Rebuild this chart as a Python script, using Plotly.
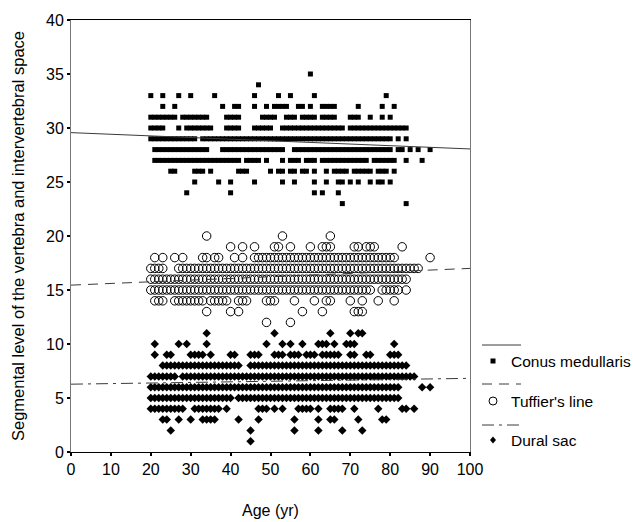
import plotly.graph_objects as go

# ---------------- data ----------------
conus_levels = [35, 34, 33, 32, 31, 30, 29, 28, 27, 26, 25, 24, 23]
conus_ages = [
    [60],
    [47],
    [20, 23, 27, 30, 36, 46, 52, 55, 61, 79],
    [23, 26, 38, 41, 42, 46, 49, 51, 52, 53, 54, 57, 58, 60, 63, 64, 65, 66, 72, 78, 81],
    [20, 21, 22, 23, 24, 25, 26, 28, 29, 30, 31, 32, 33, 34, 39, 40, 41, 42, 48, 49, 50, 51,
     54, 55, 56, 58, 59, 60, 61, 63, 64, 65, 66, 70, 71, 72, 75, 78, 80],
    [20, 21, 22, 23, 27, 29, 30, 31, 32, 33, 34, 35, 39, 40, 41, 42, 46, 47, 48, 49, 50, 53,
     54, 55, 56, 57, 58, 59, 60, 61, 62, 63, 64, 65, 66, 67, 68, 70, 71, 72, 73, 74, 75, 76,
     77, 78, 79, 80, 81, 82, 83, 84],
    [20, 21, 22, 23, 24, 25, 26, 27, 28, 29, 30, 31, 33, 34, 35, 36, 37, 38, 39, 40, 41, 42,
     43, 44, 45, 46, 47, 48, 49, 50, 51, 52, 53, 54, 55, 56, 57, 58, 59, 60, 61, 62, 63, 64,
     65, 66, 67, 68, 69, 70, 71, 72, 73, 74, 75, 76, 77, 78, 79, 80, 82, 84],
    [21, 22, 23, 24, 25, 26, 27, 28, 29, 30, 31, 32, 33, 34, 38, 39, 40, 41, 42, 43, 44, 45,
     46, 47, 48, 49, 50, 51, 52, 53, 56, 57, 58, 59, 60, 61, 62, 63, 64, 65, 66, 67, 68, 69,
     70, 71, 72, 73, 74, 75, 76, 77, 78, 79, 80, 82, 83, 85, 87, 90],
    [21, 22, 23, 24, 25, 26, 27, 28, 29, 30, 31, 32, 33, 34, 35, 36, 37, 38, 39, 40, 41, 42,
     44, 45, 46, 47, 49, 53, 55, 56, 57, 59, 60, 61, 63, 64, 65, 66, 67, 68, 69, 70, 71, 72,
     73, 74, 76, 77, 78, 79, 80, 81, 84, 88],
    [25, 26, 31, 32, 33, 35, 42, 43, 44, 50, 52, 53, 55, 56, 58, 59, 61, 64, 66, 67, 68, 69,
     71, 72, 73, 74, 75, 77, 78, 79, 81],
    [31, 37, 40, 46, 53, 56, 61, 64, 67, 68, 70, 72, 75, 77, 78, 80],
    [29, 40, 61, 63, 67],
    [68, 84],
]

tuffier_levels = [20, 19, 18, 17, 16, 15, 14, 13, 12]
tuffier_ages = [
    [34, 53, 65],
    [40, 43, 46, 51, 52, 55, 60, 63, 64, 65, 71, 72, 74, 75, 76, 83],
    [21, 23, 26, 28, 33, 34, 36, 37, 41, 43, 46, 47, 48, 49, 50, 51, 52, 53, 54, 55, 56, 57,
     58, 59, 60, 61, 62, 63, 64, 65, 66, 67, 68, 69, 70, 71, 72, 73, 74, 75, 76, 77, 78, 79,
     80, 81, 90],
    [20, 21, 22, 23, 27, 28, 29, 30, 31, 32, 33, 34, 35, 36, 37, 38, 39, 40, 41, 42, 43, 44,
     45, 46, 47, 48, 49, 50, 51, 52, 53, 54, 55, 56, 57, 58, 59, 60, 61, 62, 63, 64, 65, 66,
     67, 68, 69, 70, 71, 72, 73, 74, 75, 76, 77, 78, 79, 80, 81, 82, 83, 84, 85, 86, 87],
    [20, 21, 22, 23, 24, 25, 26, 27, 28, 29, 30, 31, 32, 33, 34, 35, 36, 37, 38, 39, 40, 41,
     42, 43, 44, 45, 46, 47, 48, 49, 50, 51, 52, 53, 54, 55, 56, 57, 58, 59, 60, 61, 62, 63,
     64, 65, 66, 67, 68, 69, 70, 71, 72, 73, 74, 75, 76, 77, 78, 79, 80, 81, 82, 83, 84],
    [20, 21, 22, 23, 24, 25, 26, 27, 28, 29, 30, 31, 32, 33, 34, 35, 36, 37, 38, 39, 40, 41,
     42, 43, 44, 45, 46, 47, 48, 49, 50, 51, 52, 53, 54, 55, 56, 57, 58, 59, 60, 61, 62, 63,
     64, 65, 66, 67, 68, 69, 70, 71, 72, 73, 74, 75, 78, 79, 80, 81, 82, 84],
    [21, 22, 23, 26, 27, 28, 29, 30, 31, 32, 33, 35, 36, 37, 38, 39, 42, 43, 44, 49, 50, 51,
     56, 61, 64, 65, 70, 73, 77, 81],
    [34, 40, 42, 58, 63, 71, 72, 73],
    [49, 55],
]

dural_levels = [11, 10, 9, 8, 7, 6, 5, 4, 3, 2, 1]
dural_ages = [
    [34, 51, 65, 70, 72, 73],
    [21, 27, 29, 34, 49, 53, 55, 58, 62, 63, 64, 66, 69, 70, 71, 81],
    [21, 24, 25, 30, 31, 32, 33, 35, 40, 41, 45, 46, 47, 51, 52, 53, 55, 56, 57, 59, 60, 61,
     63, 64, 65, 66, 67, 70, 71, 74, 75, 80, 81, 82],
    [23, 24, 25, 26, 27, 28, 29, 30, 31, 32, 33, 34, 35, 36, 37, 38, 39, 40, 41, 42, 45, 46,
     47, 48, 49, 50, 51, 52, 53, 54, 55, 56, 57, 58, 59, 60, 61, 62, 63, 64, 65, 66, 67, 68,
     69, 70, 71, 72, 73, 74, 75, 76, 77, 78, 79, 80, 81, 82, 83, 84],
    [20, 21, 22, 23, 24, 25, 26, 28, 29, 30, 31, 32, 33, 34, 35, 36, 37, 38, 39, 40, 41, 42,
     43, 44, 45, 46, 47, 48, 49, 50, 51, 52, 53, 54, 55, 56, 57, 58, 59, 60, 61, 62, 63, 64,
     65, 66, 67, 68, 69, 70, 71, 72, 73, 74, 75, 76, 77, 78, 79, 80, 81, 82, 83, 84, 85, 86],
    [20, 21, 22, 23, 24, 25, 26, 27, 28, 29, 30, 31, 32, 33, 34, 35, 36, 37, 38, 39, 40, 41,
     42, 43, 44, 45, 46, 47, 48, 49, 50, 51, 52, 53, 54, 55, 56, 57, 58, 59, 60, 61, 62, 63,
     64, 65, 66, 67, 68, 69, 70, 71, 72, 73, 74, 75, 76, 77, 78, 79, 80, 81, 82, 88, 90],
    [20, 21, 22, 23, 24, 25, 26, 27, 28, 29, 30, 31, 32, 33, 34, 35, 36, 37, 38, 39, 40, 42,
     43, 44, 45, 46, 47, 48, 49, 50, 51, 52, 53, 54, 55, 56, 57, 58, 59, 60, 61, 62, 63, 64,
     65, 66, 67, 68, 69, 70, 71, 72, 73, 74, 75, 76, 77, 78, 79, 80, 81, 82],
    [20, 21, 22, 23, 24, 25, 26, 27, 28, 31, 32, 33, 34, 35, 36, 37, 39, 47, 48, 49, 51, 53,
     57, 58, 59, 60, 62, 65, 66, 67, 68, 71, 77, 83, 84, 86],
    [23, 24, 27, 30, 33, 34, 35, 36, 42, 47, 56, 62, 65, 66, 72, 78, 79],
    [25, 45, 56, 62, 68, 73],
    [45],
]

# regression lines (value at age 0 and at age 100)
fit_ages = [0, 100]
conus_fit = [29.57, 28.06]
tuffier_fit = [15.45, 17.0]
dural_fit = [6.28, 6.82]

x_ticks = [0, 10, 20, 30, 40, 50, 60, 70, 80, 90, 100]
y_ticks = [0, 5, 10, 15, 20, 25, 30, 35, 40]
series_names = ["Conus medullaris", "Tuffier's line", "Dural sac"]


def flatten(levels, ages):
    xs, ys = [], []
    for lv, row in zip(levels, ages):
        for a in row:
            xs.append(a)
            ys.append(lv)
    return xs, ys


FONT = "Liberation Sans, Arial, sans-serif"
LINE_COL = "#3a3a3a"
DASH_T = "10px,7px"
DASH_D = "12px,5px,3px,5px"

fig = go.Figure()

cx, cy = flatten(conus_levels, conus_ages)
tx, ty = flatten(tuffier_levels, tuffier_ages)
dx, dy = flatten(dural_levels, dural_ages)

fig.add_trace(go.Scatter(x=cx, y=cy, mode="markers", name=series_names[0],
                         marker=dict(symbol="square", size=5, color="black", line=dict(width=0))))
fig.add_trace(go.Scatter(x=tx, y=ty, mode="markers", name=series_names[1],
                         marker=dict(symbol="circle-open", size=8.5, color="black", line=dict(width=1))))
fig.add_trace(go.Scatter(x=dx, y=dy, mode="markers", name=series_names[2],
                         marker=dict(symbol="diamond", size=6.5, color="black", line=dict(width=0))))

fig.add_trace(go.Scatter(x=fit_ages, y=conus_fit, mode="lines",
                         line=dict(color=LINE_COL, width=1), showlegend=False))
fig.add_trace(go.Scatter(x=fit_ages, y=tuffier_fit, mode="lines",
                         line=dict(color=LINE_COL, width=1, dash=DASH_T), showlegend=False))
fig.add_trace(go.Scatter(x=fit_ages, y=dural_fit, mode="lines",
                         line=dict(color=LINE_COL, width=1, dash=DASH_D), showlegend=False))

# ---------------- custom legend (line sample above marker + label) ----------------
# plot area in page pixels is x 71..470, y 20..452
PW, PH = 399.0, 432.0
def px_x(px):
    return (px - 71) / PW
def px_y(py):
    return (452 - py) / PH

legend_rows = [(345, 361, None), (384, 401, DASH_T), (425, 440, DASH_D)]
shapes = []
annotations = []
for i, (ly, my, dash) in enumerate(legend_rows):
    ln = dict(color=LINE_COL, width=1)
    if dash:
        ln["dash"] = dash
    shapes.append(dict(type="line", xref="paper", yref="paper",
                       x0=px_x(482), x1=px_x(521), y0=px_y(ly), y1=px_y(ly), line=ln))
    common = dict(xref="paper", yref="paper", xsizemode="pixel", ysizemode="pixel",
                  xanchor=px_x(493), yanchor=px_y(my))
    if i == 0:
        shapes.append(dict(type="rect", x0=-2.5, x1=2.5, y0=-2.5, y1=2.5,
                           fillcolor="black", line=dict(width=0), **common))
    elif i == 1:
        shapes.append(dict(type="circle", x0=-4, x1=4, y0=-4, y1=4,
                           fillcolor="rgba(0,0,0,0)", line=dict(color="black", width=1), **common))
    else:
        shapes.append(dict(type="path", path="M 0,3.5 L 3,0 L 0,-3.5 L -3,0 Z",
                           fillcolor="black", line=dict(width=0), **common))
    annotations.append(dict(xref="paper", yref="paper", x=px_x(509), y=px_y(my),
                            xanchor="left", yanchor="middle", showarrow=False,
                            text=series_names[i], font=dict(family=FONT, size=15.5, color="black")))

annotations.append(dict(xref="paper", yref="paper", x=px_x(18), y=0.5,
                        xanchor="center", yanchor="middle", showarrow=False, textangle=-90,
                        text="Segmental level of the vertebra and intervertebral space",
                        font=dict(family=FONT, size=16.5, color="black")))
annotations.append(dict(xref="paper", yref="paper", x=0.5, y=px_y(510),
                        xanchor="center", yanchor="middle", showarrow=False,
                        text="Age (yr)", font=dict(family=FONT, size=16, color="black")))

fig.update_layout(
    width=633, height=522,
    margin=dict(l=71, r=163, t=20, b=70),
    paper_bgcolor="white", plot_bgcolor="white",
    showlegend=False,
    font=dict(family=FONT, size=16, color="black"),
    shapes=shapes, annotations=annotations,
)
fig.update_xaxes(range=[0, 100], tickvals=x_ticks, ticktext=[str(v) for v in x_ticks],
                 showgrid=False, zeroline=False, showline=True, linecolor="black", linewidth=1,
                 mirror=True, ticks="outside", ticklen=3, tickwidth=2, tickcolor="black",
                 tickfont=dict(family=FONT, size=16))
fig.update_yaxes(range=[0, 40], tickvals=y_ticks, ticktext=[str(v) for v in y_ticks],
                 showgrid=False, zeroline=False, showline=True, linecolor="#777777", linewidth=1,
                 mirror=True, ticks="outside", ticklen=3, tickwidth=2, tickcolor="black",
                 tickfont=dict(family=FONT, size=16))

# remove the page's default body margin so the figure fills the window exactly
fig.write_html("out.html",
               config={"displayModeBar": False},
               post_script="document.body.style.margin='0';document.body.style.overflow='hidden';")
